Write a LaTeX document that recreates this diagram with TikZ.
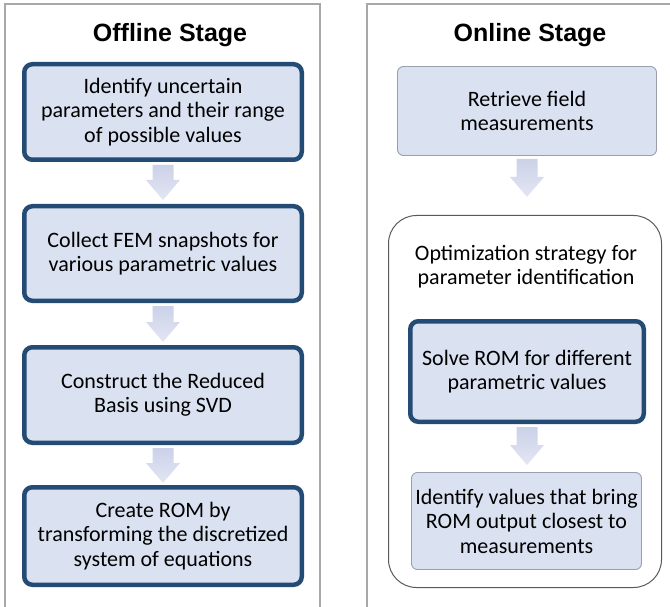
\documentclass[tikz,border=0pt]{standalone}
\usepackage{fontspec}
\usepackage{tikz}
\usetikzlibrary{positioning,calc}
\newfontfamily\boxfont{Carlito}
\newfontfamily\titlefont{Liberation Sans}
\definecolor{boxfill}{HTML}{DAE2F2}
\definecolor{boxedge}{HTML}{244B74}
\definecolor{thinedge}{HTML}{9AA0AB}
\definecolor{panelgray}{HTML}{A8A8A8}
\definecolor{arrtop}{HTML}{CBD1E8}
\definecolor{arrbot}{HTML}{E3E6F3}

% block arrow from one node down to the next
\newcommand{\blockarrow}[3][3pt]{%
  \path[blockarr] let \p1=($(#2.south)+(0,-3pt)$), \p2=($(#3.north)+(0,#1)$) in
    (\x1-10.5pt,\y1) -- (\x1+10.5pt,\y1) -- (\x1+10.5pt,\y2+20pt) -- (\x1+17pt,\y2+20pt)
    -- (\x1,\y2) -- (\x1-17pt,\y2+20pt) -- (\x1-10.5pt,\y2+20pt) -- cycle;}

\begin{document}
\begin{tikzpicture}[x=1pt,y=-1pt,
  stagebox/.style={draw=boxedge, line width=4.5pt, rounded corners=8pt, fill=boxfill, align=center, font=\boxfont\fontsize{22}{24.5}\selectfont},
  softbox/.style={draw=thinedge, line width=0.9pt, rounded corners=6pt, fill=boxfill, align=center, font=\boxfont\fontsize{22}{24.5}\selectfont},
  stagetitle/.style={font=\titlefont\bfseries\fontsize{25}{28}\selectfont},
  optframe/.style={draw=black!65, line width=1pt, rounded corners=28pt},
  panel/.style={draw=panelgray, line width=1.3pt},
  blockarr/.style={top color=arrtop, bottom color=arrbot, draw=none}
]
  \useasboundingbox (0,0) rectangle (670,607);

  % panels
  \draw[panel] (5,612) -- (5,4) -- (320,4) -- (320,612);
  \draw[panel] (367,612) -- (367,4) -- (674,4);

  \node[stagetitle] (offt) at (170,35) {Offline Stage};
  \node[stagetitle] (ont) at (530,35) {Online Stage};

  % offline stage
  \node[stagebox, minimum width=277.5pt, minimum height=95.5pt] (p1) at (163,112)
    {Identify uncertain\\parameters and their range\\of possible values};
  \node[stagebox, minimum width=277.5pt, minimum height=94.5pt, below=42pt of p1] (p2)
    {Collect FEM snapshots for\\various parametric values};
  \node[stagebox, minimum width=277.5pt, minimum height=95.5pt, below=42pt of p2] (p3)
    {Construct the Reduced\\Basis using SVD};
  \node[stagebox, minimum width=277.5pt, minimum height=97.5pt, below=40pt of p3] (p4)
    {Create ROM by\\transforming the discretized\\system of equations};

  % online stage
  \node[softbox, minimum width=259pt, minimum height=89pt] (r1) at (527,111)
    {Retrieve field\\measurements};
  \node[optframe, minimum width=273pt, minimum height=372pt] (opt) at (525,401.5) {};
  \node[font=\boxfont\fontsize{22}{24.5}\selectfont, align=center] (optlbl) at (526,266.5)
    {Optimization strategy for\\parameter identification};
  \node[stagebox, minimum width=233.5pt, minimum height=100.5pt] (r2) at (527,371.5)
    {Solve ROM for different\\parametric values};
  \node[softbox, minimum width=230pt, minimum height=97pt] (r3) at (526.5,521)
    {Identify values that bring\\ROM output closest to\\measurements};

  \blockarrow[4pt]{p1}{p2}
  \blockarrow{p2}{p3}
  \blockarrow[2pt]{p3}{p4}
  \blockarrow[18pt]{r1}{opt}
  \blockarrow[7pt]{r2}{r3}
\end{tikzpicture}
\end{document}
